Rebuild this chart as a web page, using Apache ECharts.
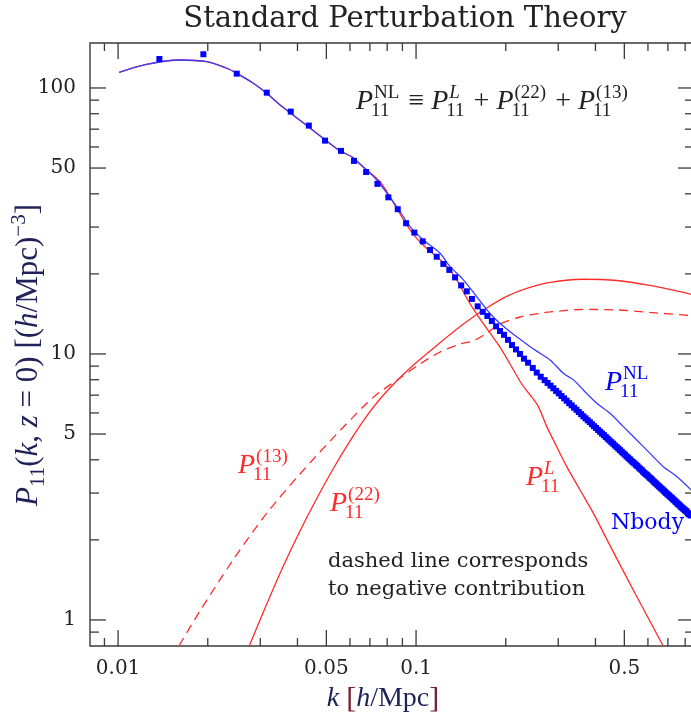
<!DOCTYPE html>
<html><head><meta charset="utf-8">
<script src="https://cdn.jsdelivr.net/npm/echarts@6/dist/echarts.min.js"></script>
<style>html,body{margin:0;padding:0;background:#fff}#c{width:691px;height:713px}</style>
</head><body><div id="c"></div>
<script>
// ---------------- data ----------------
const linK = [0.01008,0.01245,0.01615,0.01985,0.02316,0.02502,0.02844,0.03155,0.03496,0.03778,0.04351,0.05015,0.0556,0.061,0.0659,0.0757,0.0861,0.0931,0.1005,0.1086,0.1173,0.1268,0.1370,0.1480,0.1600,0.1770,0.1913,0.2067,0.2263,0.2414,0.2573,0.2746,0.2965,0.3204,0.3551,0.3936,0.4375,0.543,0.6745];
const linP = [114.5,122.7,127.4,125.6,118.6,113.5,104.2,95.5,86.3,80.7,71.5,63.2,58.0,55.0,50.9,44.4,35.3,30.5,27.2,24.9,23.2,21.4,19.0,16.2,14.1,12.0,10.6,9.17,7.71,7.01,6.34,5.33,4.48,3.77,3.08,2.52,2.0,1.26,0.8];

const nlK = [0.01008,0.01245,0.01615,0.01985,0.02316,0.02502,0.02844,0.03155,0.03496,0.03778,0.04351,0.05015,0.0556,0.061,0.0659,0.0738,0.0861,0.0955,0.1058,0.1204,0.1300,0.1441,0.1600,0.1770,0.1963,0.2177,0.2414,0.2607,0.2816,0.3120,0.3372,0.3642,0.4041,0.4477,0.4961,0.5503,0.6097,0.6759,0.7497,0.8373];
const nlP = [114.5,122.7,127.4,125.6,118.6,113.5,104.2,95.5,86.3,80.7,71.5,63.2,58.0,55.0,50.9,45.1,35.8,30.1,26.8,23.9,21.3,19.0,16.4,14.2,12.7,11.6,10.65,10.06,9.49,8.46,7.99,7.32,6.53,5.98,5.33,4.75,4.23,3.77,3.46,3.08];

const p22K = [0.02758,0.03155,0.03586,0.04079,0.04643,0.05279,0.06007,0.06834,0.07568,0.0861,0.0980,0.1143,0.1300,0.1480,0.1727,0.2015,0.2352,0.2816,0.3642,0.4717,0.6097,0.7889,0.8373];
const p22P = [0.80,1.149,1.596,2.161,2.862,3.711,4.709,5.847,6.773,7.913,9.09,10.50,11.83,13.25,14.89,16.45,17.63,18.57,19.09,18.89,18.09,17.03,16.74];

const p13K = [0.01602,0.01884,0.02431,0.03162,0.04079,0.05267,0.0685,0.07568,0.08837,0.1031,0.1204,0.1405,0.1553,0.1731,0.1913,0.2233,0.2607,0.2816,0.3634,0.4727,0.6097,0.787,0.8373];
const p13P = [0.80,1.081,1.681,2.525,3.539,4.834,6.544,7.196,8.124,9.171,10.17,10.90,11.19,11.99,12.97,13.77,14.21,14.39,14.70,14.64,14.32,14.02,13.90];

const nbodyK = [0.01376,0.01933,0.02502,0.03155,0.03797,0.04367,0.0495,0.0560,0.0619,0.0680,0.0742,0.0807,0.0868,0.0926,0.0987,0.1053,0.1114,0.1173,0.1235,0.1293,0.1352,0.1417,0.1480,0.1540,0.1610,0.1674,0.1735,0.1796,0.1856,0.1913,0.1973,0.2035,0.2099,0.2165,0.2233,0.2303,0.2376,0.2464,0.2541,0.2620,
0.2700,0.2763,0.2826,0.2889,0.2952,0.3014,0.3077,0.3140,0.3203,0.3266,0.3328,0.3391,0.3454,0.3517,0.3580,0.3642,0.3705,0.3768,0.3831,0.3894,0.3956,0.4019,0.4082,0.4145,0.4208,0.4270,0.4333,0.4396,0.4459,0.4522,0.4584,0.4647,0.4710,0.4773,0.4836,0.4898,0.4961,0.5024,0.5087,0.5150,0.5212,0.5275,0.5338,0.5401,0.5464,0.5526,0.5589,0.5652,0.5715,0.5778,0.5840,0.5903,0.5966,0.6029,0.6092,0.6154,0.6217,0.6280,0.6343,0.6406,0.6468,0.6531,0.6594,0.6657,0.6720,0.6782,0.6845,0.6908,0.6971,0.7034,0.7096,0.7159,0.7222,0.7285,0.7348,0.7410,0.7473,0.7536,0.7599,0.7662,0.7724,0.7787,0.7850,0.7913,0.7976,0.8038,0.8101,0.8164,0.8227,0.8290,0.8352];
const nbodyP = [128.5,133.9,113.2,96.0,81.5,72.2,63.4,58.0,53.2,48.3,43.6,38.8,35.0,31.0,28.6,26.5,24.6,23.2,21.8,20.7,19.4,18.1,17.2,16.1,15.1,14.4,13.9,13.3,12.7,12.2,11.8,11.3,10.8,10.4,10.0,9.60,9.27,8.86,8.51,8.21,
7.97,7.78,7.60,7.43,7.26,7.11,6.95,6.81,6.67,6.53,6.41,6.28,6.17,6.05,5.94,5.83,5.73,5.63,5.54,5.44,5.35,5.27,5.18,5.10,5.02,4.95,4.87,4.80,4.73,4.66,4.60,4.53,4.47,4.41,4.35,4.29,4.23,4.18,4.12,4.07,4.02,3.97,3.92,3.88,3.83,3.79,3.74,3.70,3.66,3.61,3.57,3.53,3.50,3.46,3.42,3.39,3.35,3.31,3.28,3.25,3.21,3.18,3.15,3.12,3.09,3.06,3.03,3.00,2.97,2.95,2.92,2.89,2.87,2.84,2.82,2.79,2.77,2.74,2.72,2.70,2.67,2.65,2.63,2.61,2.59,2.57,2.55,2.52,2.50,2.49,2.47];

const xTickVals = [0.009,0.01,0.02,0.03,0.04,0.05,0.06,0.07,0.08,0.09,0.1,0.2,0.3,0.4,0.5,0.6,0.7,0.8];
const xLabelVals = [0.01,0.05,0.1,0.5];
const xLabelText = ['0.01','0.05','0.1','0.5'];
const yTickVals = [0.9,1,2,3,4,5,6,7,8,9,10,20,30,40,50,60,70,80,90,100];
const yLabelVals = [1,5,10,50,100];
const yLabelText = ['1','5','10','50','100'];

const X_MIN = 0.00805, X_MAX = 0.8565, Y_MIN = 0.798, Y_MAX = 147.6;

// ---------------- styling ----------------
const AX = '#3a3a3a';
const RED = '#ff2a2a';
const BLUE_LINE = '#3b3bff';
const BLUE_PT = '#0000ff';
const TXT = '#222222';
const NAVY = '#1e2258';
const MATH = 'Liberation Serif';
const ROMAN = 'DejaVu Serif';

const mctx = document.createElement('canvas').getContext('2d');
function tw(text, size, family, italic){ mctx.font = (italic?'italic ':'') + size + 'px "' + family + '"'; return mctx.measureText(text).width; }

function txt(x, y, text, size, family, color, align, italic){
  return {type:'text', x:x, y:y, z:100, silent:true, style:{text:text, fontSize:size, fontFamily:family, fontStyle: italic?'italic':'normal', fill:color,
    textAlign:align||'left', align:align||'left', textVerticalAlign:'middle', verticalAlign:'middle'}};
}

// math label: P with stacked super/subscripts
function mathLabel(x0, yc, parts, color, S, s){
  const els = []; let x = x0;
  parts.forEach(p => {
    if (p.t !== undefined){
      els.push(txt(x, yc, p.t, S, MATH, color, 'left', p.it));
      x += tw(p.t, S, MATH, p.it);
    } else {
      let w = 0;
      if (p.sup){ els.push(txt(x+1, yc - 0.33*S, p.sup, s, MATH, color, 'left', p.supIt)); w = Math.max(w, tw(p.sup, s, MATH, p.supIt)+1); }
      if (p.sub){ els.push(txt(x-2, yc + 0.33*S, p.sub, s, MATH, color, 'left', false)); w = Math.max(w, tw(p.sub, s, MATH, false)-2); }
      x += w + 2;
    }
  });
  return els;
}

function renderXTick(params, api){
  const v = api.value(0);
  const b = api.coord([v, Y_MIN]); const t = api.coord([v, Y_MAX]);
  const idx = xLabelVals.indexOf(v);
  const L = idx >= 0 ? 16 : 8;
  const ch = [
    {type:'line', shape:{x1:b[0], y1:b[1], x2:b[0], y2:b[1]-L}, style:{stroke:AX, lineWidth:1.3}},
    {type:'line', shape:{x1:t[0], y1:t[1], x2:t[0], y2:t[1]+L}, style:{stroke:AX, lineWidth:1.3}}
  ];
  if (idx >= 0) ch.push({type:'text', x:b[0], y:b[1]+23, style:{text:xLabelText[idx], fontSize:20, fontFamily:ROMAN, fill:TXT, textAlign:'center', align:'center', textVerticalAlign:'middle', verticalAlign:'middle'}});
  return {type:'group', children:ch};
}
function renderYTick(params, api){
  const v = api.value(1);
  const l = api.coord([X_MIN, v]); const r = api.coord([X_MAX, v]);
  const idx = yLabelVals.indexOf(v);
  const L = idx >= 0 ? 16 : 9;
  const ch = [
    {type:'line', shape:{x1:l[0], y1:l[1], x2:l[0]+L, y2:l[1]}, style:{stroke:AX, lineWidth:1.3}},
    {type:'line', shape:{x1:r[0], y1:r[1], x2:r[0]-L, y2:r[1]}, style:{stroke:AX, lineWidth:1.3}}
  ];
  if (idx >= 0) ch.push({type:'text', x:l[0]-14, y:l[1], style:{text:yLabelText[idx], fontSize:20, fontFamily:ROMAN, fill:TXT, textAlign:'right', align:'right', textVerticalAlign:'middle', verticalAlign:'middle'}});
  return {type:'group', children:ch};
}

const pairs = (a, b) => a.map((v, i) => [v, b[i]]);

const graphics = [];
graphics.push(txt(405, 19, 'Standard Perturbation Theory', 29, ROMAN, TXT, 'center'));
graphics.push(txt(328, 562, 'dashed line corresponds', 21, ROMAN, TXT, 'left'));
graphics.push(txt(328, 590, 'to negative contribution', 21, ROMAN, TXT, 'left'));
graphics.push(txt(611, 523, 'Nbody', 22, ROMAN, BLUE_PT, 'left'));
graphics.push(...mathLabel(356, 102, [{t:'P',it:1},{sup:'NL',sub:'11'},{t:' \u2261 '},{t:'P',it:1},{sup:'L',supIt:1,sub:'11'},{t:' + '},{t:'P',it:1},{sup:'(22)',sub:'11'},{t:' + '},{t:'P',it:1},{sup:'(13)',sub:'11'}], TXT, 28, 19));
graphics.push(...mathLabel(605, 383, [{t:'P',it:1},{sup:'NL',sub:'11'}], BLUE_PT, 28, 19));
graphics.push(...mathLabel(526, 478, [{t:'P',it:1},{sup:'L',supIt:1,sub:'11'}], RED, 28, 19));
graphics.push(...mathLabel(238, 466, [{t:'P',it:1},{sup:'(13)',sub:'11'}], RED, 28, 19));
graphics.push(...mathLabel(330, 504, [{t:'P',it:1},{sup:'(22)',sub:'11'}], RED, 28, 19));

// axis titles (rich text)
function richSet(S, s){
  const LH = Math.round(S*1.3);
  return {
    i:{fontStyle:'italic', fontSize:S, fontFamily:MATH, fill:NAVY, color:NAVY, lineHeight:LH},
    r:{fontSize:S, fontFamily:MATH, fill:NAVY, color:NAVY, lineHeight:LH},
    b:{fontSize:S+2, fontFamily:MATH, fill:'#7a2030', color:'#7a2030', lineHeight:LH},
    s:{fontSize:s, fontFamily:MATH, fill:NAVY, color:NAVY, lineHeight:s, verticalAlign:'bottom'},
    u:{fontSize:s, fontFamily:MATH, fill:NAVY, color:NAVY, lineHeight:s, verticalAlign:'top'}
  };
}
graphics.push({type:'text', x:383, y:699, z:100, silent:true, style:{text:'{i|k}{r| }{b|[}{i|h}{r|/Mpc}{b|]}', rich:richSet(28,19), textAlign:'center', align:'center', textVerticalAlign:'middle', verticalAlign:'middle'}});
graphics.push({type:'text', x:29, y:355, rotation:Math.PI/2, z:100, silent:true, style:{text:'{i|P}{s|11}{r|(}{i|k}{r|, }{i|z}{r| = 0) [(}{i|h}{r|/Mpc)}{u|\u22123}{r|]}', rich:richSet(31,21), textAlign:'center', align:'center', textVerticalAlign:'middle', verticalAlign:'middle'}});

const chart = echarts.init(document.getElementById('c'), null, {renderer:'canvas'});
chart.setOption({
  animation:false,
  backgroundColor:'#ffffff',
  grid:{left:90, top:43, width:604, height:603, show:true, borderColor:AX, borderWidth:1.4, backgroundColor:'transparent', containLabel:false, outerBoundsMode:'none'},
  xAxis:{type:'log', logBase:10, min:X_MIN, max:X_MAX, axisLine:{show:false}, axisTick:{show:false}, axisLabel:{show:false}, splitLine:{show:false}},
  yAxis:{type:'log', logBase:10, min:Y_MIN, max:Y_MAX, axisLine:{show:false}, axisTick:{show:false}, axisLabel:{show:false}, splitLine:{show:false}},
  series:[
    {name:'P13', type:'line', data:pairs(p13K, p13P), showSymbol:false, smooth:0.3, lineStyle:{color:RED, width:1.3, type:[9,6]}, silent:true, z:2},
    {name:'P22', type:'line', data:pairs(p22K, p22P), showSymbol:false, smooth:0.3, lineStyle:{color:RED, width:1.3}, silent:true, z:2},
    {name:'PL', type:'line', data:pairs(linK, linP), showSymbol:false, smooth:0.3, lineStyle:{color:RED, width:1.3}, silent:true, z:3},
    {name:'PNL', type:'line', data:pairs(nlK, nlP), showSymbol:false, smooth:0.3, lineStyle:{color:BLUE_LINE, width:1.3}, silent:true, z:4},
    {name:'Nbody', type:'scatter', data:pairs(nbodyK, nbodyP), symbol:'rect', symbolSize:6, itemStyle:{color:BLUE_PT, opacity:1}, silent:true, z:5},
    {name:'xticks', type:'custom', data:xTickVals.map(v => [v, Y_MIN]), renderItem:renderXTick, silent:true, z:10, clip:false},
    {name:'yticks', type:'custom', data:yTickVals.map(v => [X_MIN, v]), renderItem:renderYTick, silent:true, z:10, clip:false}
  ],
  graphic:graphics
});
</script>
</body></html>
